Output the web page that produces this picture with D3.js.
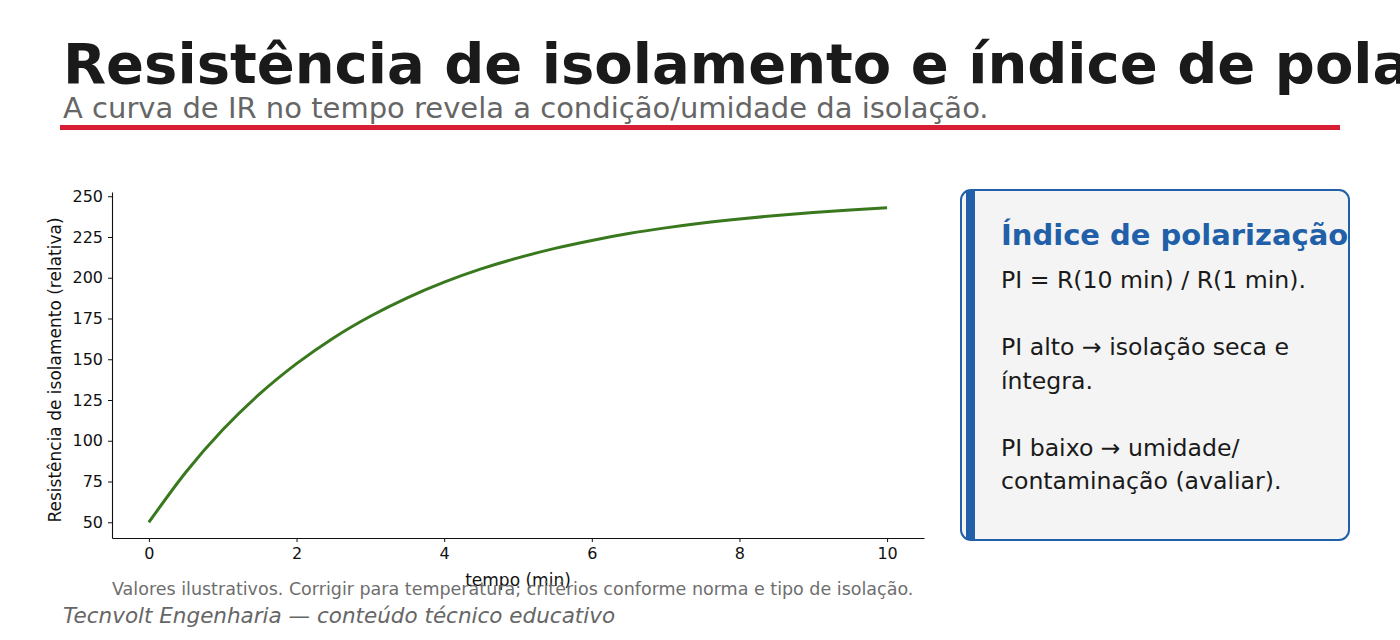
<!DOCTYPE html>
<html>
<head>
<meta charset="utf-8">
<script src="https://cdn.jsdelivr.net/npm/d3@7"></script>
<style>
  body { margin: 0; background: #fff; }
  svg { display: block; font-family: "DejaVu Sans", sans-serif; }
</style>
</head>
<body>
<script>
// IR curve (relative resistance vs minutes)
var tempo = [0, 0.5, 1, 1.5, 2, 2.5, 3, 3.5, 4, 4.5, 5, 5.5, 6, 6.5, 7, 7.5, 8, 8.5, 9, 9.5, 10];
var resistencia = [50, 80.7, 106.7, 128.7, 147.3, 163.1, 176.4, 187.7, 197.3, 205.4, 212.2,
                   218.0, 222.9, 227.1, 230.6, 233.6, 236.1, 238.2, 240.0, 241.6, 242.9];
var xTicks = [0, 2, 4, 6, 8, 10];
var yTicks = [50, 75, 100, 125, 150, 175, 200, 225, 250];
var boxLines = ["PI = R(10 min) / R(1 min).", "", "PI alto \u2192 isolação seca e", "íntegra.", "",
                "PI baixo \u2192 umidade/", "contaminação (avaliar)."];

var width = 1400, height = 640;
var svg = d3.select("body").append("svg").attr("width", width).attr("height", height);

// header
svg.append("text").attr("x", 63).attr("y", 83)
  .attr("font-size", 56).attr("font-weight", "bold").attr("fill", "#1a1a1a")
  .text("Resistência de isolamento e índice de polarização");
svg.append("text").attr("x", 63).attr("y", 118)
  .attr("font-size", 29).attr("fill", "#666")
  .text("A curva de IR no tempo revela a condição/umidade da isolação.");
svg.append("rect").attr("x", 60).attr("y", 125).attr("width", 1280).attr("height", 5).attr("fill", "#d81e34");

// plot
var pLeft = 112, pRight = 924, pTop = 192, pBottom = 538;
var x = d3.scaleLinear().domain([-0.5, 10.5]).range([pLeft, pRight]);
var y = d3.scaleLinear().domain([40.35, 252.6]).range([pBottom, pTop]);

var xAxis = svg.append("g").attr("transform", "translate(0," + pBottom + ")")
  .call(d3.axisBottom(x).tickValues(xTicks).tickSize(4).tickPadding(6).tickSizeOuter(0));
var yAxis = svg.append("g").attr("transform", "translate(" + pLeft + ",0)")
  .call(d3.axisLeft(y).tickValues(yTicks).tickSize(4).tickPadding(5).tickSizeOuter(0));
[xAxis, yAxis].forEach(function(a) {
  a.attr("font-size", 16).attr("font-family", "DejaVu Sans");
  a.selectAll("text").attr("fill", "#111");
  a.select(".domain").attr("stroke", "#111").attr("stroke-width", 1.1);
  a.selectAll(".tick line").attr("stroke", "#111");
});

var data = tempo.map(function(t, i) { return {t: t, r: resistencia[i]}; });
svg.append("path").datum(data)
  .attr("fill", "none").attr("stroke", "#3a781e").attr("stroke-width", 3)
  .attr("d", d3.line().x(function(d) { return x(d.t); }).y(function(d) { return y(d.r); }).curve(d3.curveMonotoneX));

svg.append("text").attr("x", (pLeft + pRight) / 2).attr("y", 586).attr("text-anchor", "middle")
  .attr("font-size", 17).attr("fill", "#111").text("tempo (min)");
svg.append("text").attr("transform", "translate(61," + ((pTop + pBottom) / 2 + 5) + ") rotate(-90)")
  .attr("text-anchor", "middle").attr("font-size", 17).attr("fill", "#111")
  .text("Resistência de isolamento (relativa)");

// notes
svg.append("text").attr("x", 112).attr("y", 595).attr("font-size", 17.5).attr("fill", "#6e6e6e")
  .text("Valores ilustrativos. Corrigir para temperatura; critérios conforme norma e tipo de isolação.");
svg.append("text").attr("x", 63).attr("y", 623).attr("font-size", 21.5).attr("font-style", "italic").attr("fill", "#666")
  .text("Tecnvolt Engenharia \u2014 conteúdo técnico educativo");

// side box
var box = svg.append("g");
box.append("rect").attr("x", 961).attr("y", 190).attr("width", 388).attr("height", 350).attr("rx", 10)
  .attr("fill", "#f4f4f4").attr("stroke", "#2160a8").attr("stroke-width", 2);
box.append("rect").attr("x", 966).attr("y", 191).attr("width", 9).attr("height", 348).attr("fill", "#2160a8");
box.append("text").attr("x", 1001).attr("y", 245).attr("font-size", 29).attr("font-weight", "bold")
  .attr("fill", "#2160a8").text("Índice de polarização");
box.selectAll("text.line").data(boxLines).enter().append("text").attr("class", "line")
  .attr("x", 1001).attr("y", function(d, i) { return 288 + i * 33.5; })
  .attr("font-size", 23.6).attr("fill", "#1a1a1a").text(function(d) { return d; });
</script>
</body>
</html>
